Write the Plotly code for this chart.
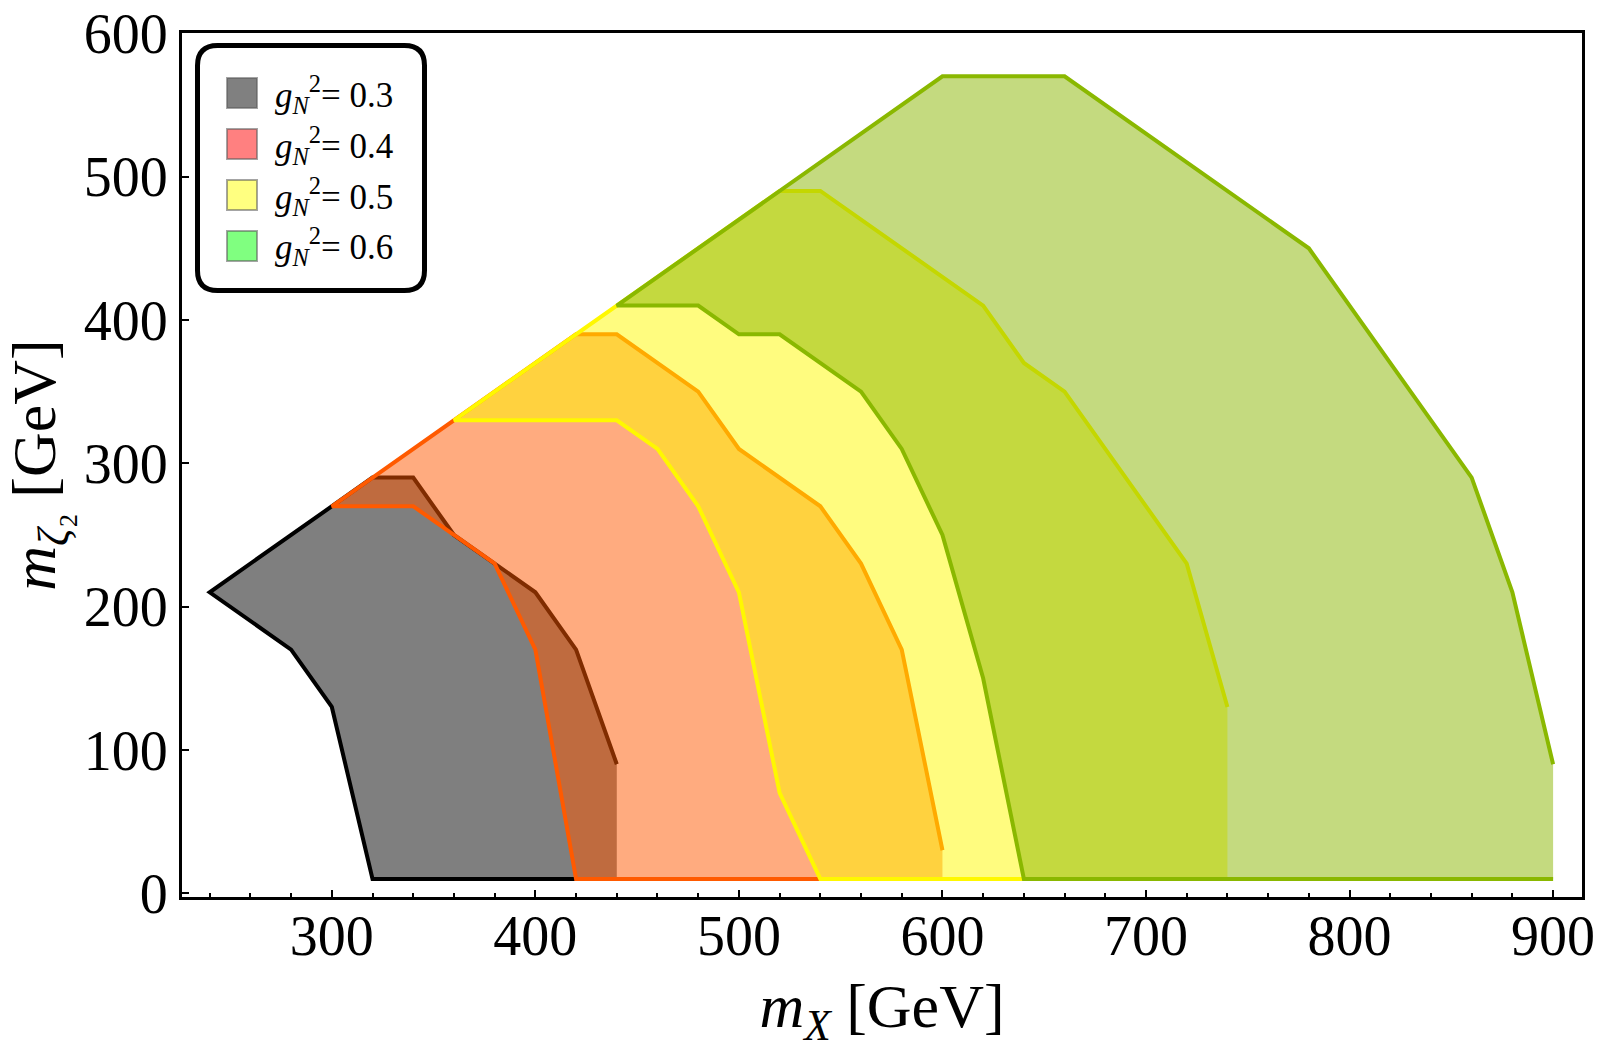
import plotly.graph_objects as go

# ---------------- data ----------------
g_labels = ["0.3", "0.4", "0.5", "0.6"]

# inner (left) boundary of each band, listed from the bottom upward; outer boundary from the diagonal downward
inner_x_03 = [320, 300, 280, 240]
inner_y_03 = [10, 130, 170, 210]
outer_x_03 = [320, 340, 360, 400, 420, 440]
outer_y_03 = [290, 290, 250, 210, 170, 90]

inner_x_04 = [420, 400, 380, 340, 300]
inner_y_04 = [10, 170, 230, 270, 270]
outer_x_04 = [420, 440, 480, 500, 540, 560, 580, 600]
outer_y_04 = [390, 390, 350, 310, 270, 230, 170, 30]

inner_x_05 = [540, 520, 500, 480, 460, 440, 360]
inner_y_05 = [10, 70, 210, 270, 310, 330, 330]
outer_x_05 = [520, 540, 620, 640, 660, 720, 740]
outer_y_05 = [490, 490, 410, 370, 350, 230, 130]

inner_x_06 = [640, 620, 600, 580, 560, 520, 500, 480, 440]
inner_y_06 = [10, 150, 250, 310, 350, 390, 390, 410, 410]
outer_x_06 = [600, 660, 780, 860, 880, 900]
outer_y_06 = [570, 570, 450, 290, 210, 90]

base_y = 10

x_ticks = [300, 400, 500, 600, 700, 800, 900]
y_ticks = [0, 100, 200, 300, 400, 500, 600]

# styles
edge_colors = ["rgb(0,0,0)", "rgb(255,90,0)", "rgb(255,248,0)", "rgb(138,184,0)"]
fill_colors = ["rgba(0,0,0,0.5)", "rgba(255,88,0,0.5)", "rgba(255,250,0,0.5)", "rgba(138,182,0,0.5)"]
legend_colors = ["rgb(128,128,128)", "rgb(255,128,128)", "rgb(255,255,128)", "rgb(128,255,128)"]

inner_x = [inner_x_03, inner_x_04, inner_x_05, inner_x_06]
inner_y = [inner_y_03, inner_y_04, inner_y_05, inner_y_06]
outer_x = [outer_x_03, outer_x_04, outer_x_05, outer_x_06]
outer_y = [outer_y_03, outer_y_04, outer_y_05, outer_y_06]

FONT = "Liberation Serif"

fig = go.Figure()
for i in range(4):
    px = inner_x[i] + outer_x[i] + [outer_x[i][-1]]
    py = inner_y[i] + outer_y[i] + [base_y]
    fig.add_trace(go.Scatter(x=px, y=py, fill="toself", fillcolor=fill_colors[i],
                             mode="lines", line=dict(width=0), hoverinfo="skip",
                             showlegend=False))
    lx = [outer_x[i][-1]] + inner_x[i] + outer_x[i]
    ly = [base_y] + inner_y[i] + outer_y[i]
    fig.add_trace(go.Scatter(x=lx, y=ly, mode="lines",
                             line=dict(color=edge_colors[i], width=4),
                             hoverinfo="skip", showlegend=False))

# ---------------- layout ----------------
W, H = 1600, 1049
L, R, T, B = 182, 18, 33, 152
PW, PH = W - L - R, H - T - B


def to_paper(xp, yp):
    return (xp - L) / PW, 1 - (yp - T) / PH


def P(xp, yp):
    a, b = to_paper(xp, yp)
    return f"{a:.5f},{b:.5f}"


# legend box with rounded corners
bx0, by0, bx1, by1, rad = 197.5, 45.5, 424.5, 290.5, 20
path = (f"M {P(bx0+rad, by0)} L {P(bx1-rad, by0)} Q {P(bx1, by0)} {P(bx1, by0+rad)} "
        f"L {P(bx1, by1-rad)} Q {P(bx1, by1)} {P(bx1-rad, by1)} "
        f"L {P(bx0+rad, by1)} Q {P(bx0, by1)} {P(bx0, by1-rad)} "
        f"L {P(bx0, by0+rad)} Q {P(bx0, by0)} {P(bx0+rad, by0)} Z")
shapes = [dict(type="path", path=path, xref="paper", yref="paper",
               line=dict(color="black", width=5), fillcolor="white", layer="above")]
annotations = []
row_y = [93, 144, 195, 246]
for i in range(4):
    x0, ytop = to_paper(227, row_y[i] - 15)
    x1, ybot = to_paper(257, row_y[i] + 15)
    shapes.append(dict(type="rect", xref="paper", yref="paper", x0=x0, y0=ybot, x1=x1, y1=ytop,
                       fillcolor=legend_colors[i], line=dict(color="rgba(90,90,90,0.55)", width=2),
                       layer="above"))
    tx, ty = to_paper(273, row_y[i] + 1)
    annotations.append(dict(xref="paper", yref="paper", x=tx, y=ty, xanchor="left", yanchor="middle",
                            text=f"<i>g</i><sub><i>N</i></sub><sup>2</sup>= {g_labels[i]}",
                            showarrow=False, font=dict(family=FONT, size=35, color="black")))

axis_common = dict(showgrid=False, zeroline=False, showline=True, linecolor="black", linewidth=3,
                   mirror=True, ticks="inside", ticklen=7, tickwidth=2, tickcolor="black",
                   automargin=False,
                   tickfont=dict(family=FONT, size=56, color="black"))

fig.update_layout(
    width=W, height=H, margin=dict(l=L, r=R, t=T, b=B, autoexpand=False),
    paper_bgcolor="white", plot_bgcolor="white",
    xaxis=dict(range=[226.4, 914.2], tickvals=x_ticks, ticktext=[str(v) for v in x_ticks],
               minor=dict(ticks="inside", ticklen=4, tickwidth=1.5, tickcolor="black", dtick=20),
               ticklabelstandoff=-12,
               title=dict(text="<i>m</i><sub><i>X</i></sub> [GeV]", standoff=24,
                          font=dict(family=FONT, size=62, color="black")),
               **axis_common),
    yaxis=dict(range=[-2.6, 600.2], tickvals=y_ticks, ticktext=[str(v) for v in y_ticks],
               title=dict(text="<i>m</i><sub><i>ζ</i>₂</sub> [GeV]", standoff=10,
                          font=dict(family=FONT, size=62, color="black")),
               **axis_common),
    shapes=shapes, annotations=annotations,
)

fig.write_html("out.html", config={"displayModeBar": False},
               post_script="document.body.style.margin='0px';document.body.style.overflow='hidden';")
